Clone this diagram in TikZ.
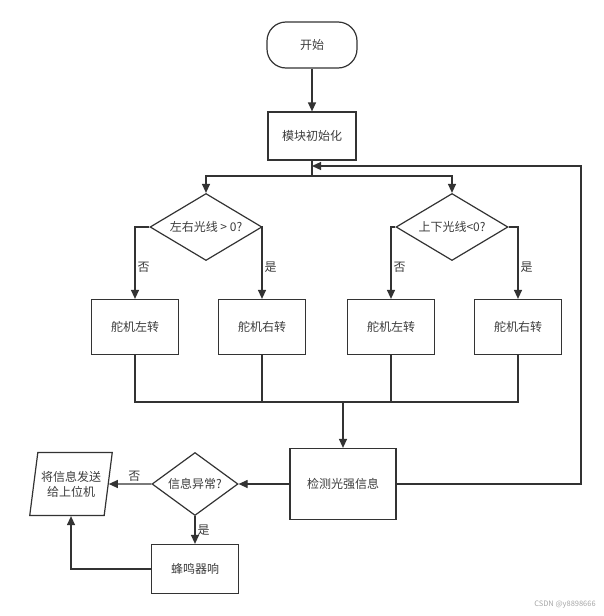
\documentclass[tikz,border=0pt]{standalone}
\usepackage{fontspec}
\setmainfont{Noto Sans CJK SC}
\usetikzlibrary{shapes.geometric,arrows.meta}
\definecolor{linegray}{HTML}{333333}
\definecolor{textgray}{HTML}{3C3C3C}
\tikzset{
  base/.style={draw=linegray, line width=1.2pt, text=textgray, inner sep=0pt,
    font=\fontsize{12}{15}\selectfont, align=center},
  procbox/.style={base, rectangle},
  termbox/.style={base, rectangle, rounded corners=19pt, minimum width=90pt, minimum height=46pt},
  decide/.style={base, diamond, minimum width=112pt, minimum height=67pt},
  iobox/.style={base, trapezium, trapezium left angle=75, trapezium right angle=105,
    trapezium stretches=true, minimum width=83pt, minimum height=63pt, inner sep=1pt},
  flow/.style={draw=linegray, line width=1.2pt},
  arr/.style={flow, -{Triangle[length=9pt,width=8pt]}},
  yesno/.style={text=textgray, font=\fontsize{12}{14}\selectfont, inner sep=2pt}
}
\begin{document}
\begin{tikzpicture}[x=1pt,y=-1pt]
  \useasboundingbox (0,0) rectangle (604,616);
  % nodes
  \node[termbox] (start) at (312,45) {开始};
  \node[procbox, minimum width=88pt, minimum height=48pt] (init) at (312,136) {模块初始化};
  \node[decide, label={[textgray, font=\fontsize{12}{15}\selectfont]center:左右光线 > 0?}] (lr) at (206,227) {};
  \node[decide, label={[textgray, font=\fontsize{12}{15}\selectfont]center:上下光线<0?}] (ud) at (452,227) {};
  \node[procbox, minimum width=87pt, minimum height=55pt] (left1) at (135,327) {舵机左转};
  \node[procbox, minimum width=87pt, minimum height=55pt] (right1) at (262,327) {舵机右转};
  \node[procbox, minimum width=87pt, minimum height=55pt] (left2) at (391,327) {舵机左转};
  \node[procbox, minimum width=87pt, minimum height=55pt] (right2) at (518,327) {舵机右转};
  \node[procbox, minimum width=106pt, minimum height=71pt] (detect) at (343,484) {检测光强信息};
  \node[decide, minimum width=86pt, minimum height=63pt, label={[textgray, font=\fontsize{12}{15}\selectfont]center:信息异常?}] (err) at (195,484) {};
  \node[iobox] (send) at (71,484) {将信息发送\\给上位机};
  \node[procbox, minimum width=87pt, minimum height=49pt] (beep) at (195,569) {蜂鸣器响};
  \node[text=gray!70, font=\fontsize{7.5}{9}\selectfont, inner sep=0pt] (mark) at (565,605) {CSDN @y8898666};
  % helper points
  \coordinate (split) at (312,176);
  \coordinate (back) at (312,166);
  \coordinate (loop) at (581,166);
  \coordinate (merge) at (343,402);
  % connectors
  \draw[arr] (start) -- (init);
  \draw[flow] (init) -- (split);
  \draw[arr] (split) -| (lr.north);
  \draw[arr] (split) -| (ud.north);
  \draw[arr] (lr.west) -| (left1.north) node[yesno, right, pos=0.78] {否};
  \draw[arr] (lr.east) -| (right1.north) node[yesno, right, pos=0.78] {是};
  \draw[arr] (ud.west) -| (left2.north) node[yesno, right, pos=0.78] {否};
  \draw[arr] (ud.east) -| (right2.north) node[yesno, right, pos=0.78] {是};
  \draw[flow] (left1.south) |- (merge);
  \draw[flow] (right1.south) |- (merge);
  \draw[flow] (left2.south) |- (merge);
  \draw[flow] (right2.south) |- (merge);
  \draw[arr] (merge) -- (detect.north);
  \draw[arr] (detect.east) -| (loop) -- (back);
  \draw[arr] (detect.west) -- (err.east);
  \draw[arr] (err.west) -- (send.east) node[yesno, above, pos=0.4] {否};
  \draw[arr] (err.south) -- (beep.north) node[yesno, right, pos=0.5] {是};
  \draw[arr] (beep.west) -| (send.south);
\end{tikzpicture}
\end{document}
